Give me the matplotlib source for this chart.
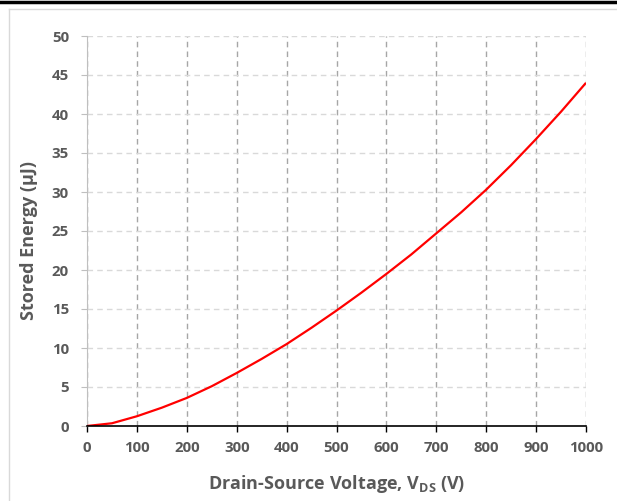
import numpy as np
import matplotlib
matplotlib.use("Agg")
import matplotlib.pyplot as plt
from matplotlib.lines import Line2D

# data
vds = [0, 50, 100, 150, 200, 250, 300, 350, 400, 450, 500,
       550, 600, 650, 700, 750, 800, 850, 900, 950, 1000]
energy = [0, 0.35, 1.25, 2.35, 3.6, 5.1, 6.8, 8.6, 10.5, 12.6, 14.8,
          17.1, 19.5, 22.0, 24.7, 27.4, 30.3, 33.45, 36.8, 40.3, 44.0]
xticks = [0, 100, 200, 300, 400, 500, 600, 700, 800, 900, 1000]
yticks = [0, 5, 10, 15, 20, 25, 30, 35, 40, 45, 50]

plt.rcParams['font.family'] = ['Open Sans', 'DejaVu Sans']
plt.rcParams['font.weight'] = 'bold'

txt = '#595959'

fig = plt.figure(figsize=(6.17, 5.01), dpi=100)
ax = fig.add_axes([87/617, 1 - 426/501, (586-87)/617, (426-36)/501])

ax.plot(vds, energy, color='#ff0000', lw=1.6, solid_capstyle='butt', zorder=3)

ax.set_xlim(0, 1000)
ax.set_ylim(0, 50)
ax.set_xticks(xticks)
ax.set_yticks(yticks)

ax.yaxis.grid(True, color='#d9d9d9', ls=(0, (4, 3)), lw=1)
ax.xaxis.grid(True, color='#a6a6a6', ls=(0, (4, 3)), lw=1)
ax.set_axisbelow(True)

for s in ['top', 'right']:
    ax.spines[s].set_visible(False)
ax.spines['left'].set_color('#bfbfbf')
ax.spines['bottom'].set_color('black')
ax.spines['bottom'].set_linewidth(1.2)
ax.spines['bottom'].set_zorder(4)

ax.tick_params(axis='y', direction='out', length=4, color='#bfbfbf',
               labelcolor=txt, labelsize=10.8, pad=9)
ax.tick_params(axis='x', direction='out', length=4, color='black', width=1,
               labelcolor=txt, labelsize=10.8, pad=7)
for lab in ax.get_xticklabels() + ax.get_yticklabels():
    lab.set_fontweight('bold')

ax.set_xlabel(r'Drain-Source Voltage, $\mathregular{V_{DS}}$ (V)',
              fontsize=13, fontweight='bold', color=txt, labelpad=13)
ax.set_ylabel('Stored Energy (µJ)', fontsize=13, fontweight='bold',
              color=txt, labelpad=10)
ax.yaxis.label.set_y(0.475)

# page frame lines
fig.add_artist(Line2D([0, 1], [1 - 1.5/501, 1 - 1.5/501], color='black', lw=2.5))
fig.add_artist(Line2D([9/617, 1], [1 - 8.5/501, 1 - 8.5/501], color='#d9d9d9', lw=1))
fig.add_artist(Line2D([9/617, 9/617], [0, 1 - 8.5/501], color='#d9d9d9', lw=1))

fig.savefig('out.png', dpi=100)
